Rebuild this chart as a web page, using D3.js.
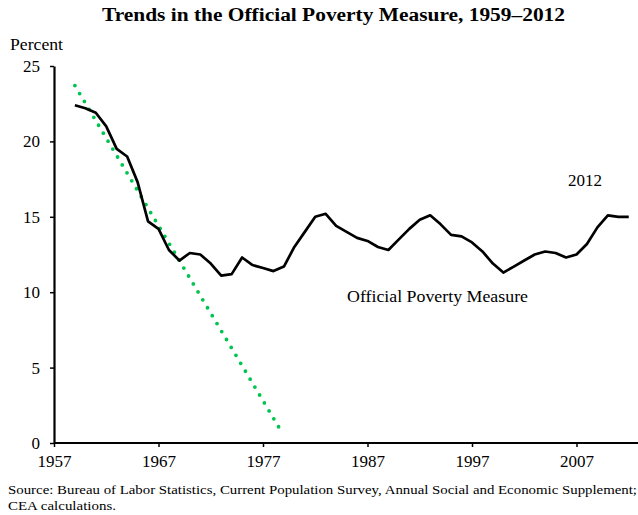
<!DOCTYPE html>
<html>
<head>
<meta charset="utf-8">
<script src="https://cdn.jsdelivr.net/npm/d3@7"></script>
<style>
  body { margin: 0; background: #fff; }
  svg { display: block; font-family: "Liberation Serif", "Times New Roman", serif; }
</style>
</head>
<body>
<svg id="chart" width="638" height="515"></svg>
<script>
// ---- data ----
const years = d3.range(1959, 2013);
const povertyRate = [
  22.4, 22.2, 21.9, 21.0, 19.5, 19.0, 17.3, 14.7, 14.2, 12.8,
  12.1, 12.6, 12.5, 11.9, 11.1, 11.2, 12.3, 11.8, 11.6, 11.4,
  11.7, 13.0, 14.0, 15.0, 15.2, 14.4, 14.0, 13.6, 13.4, 13.0,
  12.8, 13.5, 14.2, 14.8, 15.1, 14.5, 13.8, 13.7, 13.3, 12.7,
  11.9, 11.3, 11.7, 12.1, 12.5, 12.7, 12.6, 12.3, 12.5, 13.2,
  14.3, 15.1, 15.0, 15.0
];
const trendYears = [1959, 1978.6];
const trendValues = [23.7, 0.95];
const xTicks = [1957, 1967, 1977, 1987, 1997, 2007];
const yTicks = [0, 5, 10, 15, 20, 25];

const svg = d3.select("#chart");
const x = d3.scaleLinear().domain([1957, 2012]).range([54, 628.75]);
const y = d3.scaleLinear().domain([0, 25]).range([443, 66]);

// title
svg.append("text").attr("x", 102).attr("y", 21)
  .attr("font-size", 18.5).attr("font-weight", "bold")
  .attr("textLength", 463).attr("lengthAdjust", "spacingAndGlyphs")
  .text("Trends in the Official Poverty Measure, 1959\u20132012");

svg.append("text").attr("x", 10).attr("y", 50).attr("font-size", 16)
  .attr("textLength", 53).attr("lengthAdjust", "spacingAndGlyphs").text("Percent");

// y axis
const yAxis = svg.append("g").attr("transform", "translate(54,0)")
  .call(d3.axisLeft(y).tickValues(yTicks).tickSize(4).tickPadding(10).tickSizeOuter(0));
yAxis.select(".domain").attr("stroke-width", 2.2);
yAxis.selectAll(".tick line").attr("stroke-width", 1.5);
yAxis.selectAll("text").attr("font-size", 17).attr("font-family", "Liberation Serif").attr("fill", "#000");

// x axis
const xAxis = svg.append("g").attr("transform", "translate(0,443)")
  .call(d3.axisBottom(x).tickValues(xTicks).tickFormat(d3.format("d")).tickSize(4).tickPadding(8).tickSizeOuter(0));
xAxis.select(".domain").attr("d", `M54,0H638`).attr("stroke-width", 2.2);
xAxis.selectAll(".tick line").attr("stroke-width", 1.5);
xAxis.selectAll("text").attr("font-size", 17).attr("font-family", "Liberation Serif").attr("fill", "#000");

// trend dotted line
svg.append("path")
  .datum(trendYears.map((yr, i) => [yr, trendValues[i]]))
  .attr("d", d3.line().x(d => x(d[0])).y(d => y(d[1])))
  .attr("fill", "none").attr("stroke", "#00c450").attr("stroke-width", 3.8)
  .attr("stroke-linecap", "round").attr("stroke-dasharray", "0 9.24");

// poverty line
svg.append("path")
  .datum(years.map((yr, i) => [yr, povertyRate[i]]))
  .attr("d", d3.line().x(d => x(d[0])).y(d => y(d[1])))
  .attr("fill", "none").attr("stroke", "#000").attr("stroke-width", 2.7)
  .attr("stroke-linejoin", "round");

// labels
svg.append("text").attr("x", 347).attr("y", 302).attr("font-size", 16.5)
  .attr("textLength", 181).attr("lengthAdjust", "spacingAndGlyphs").text("Official Poverty Measure");
svg.append("text").attr("x", 568).attr("y", 186).attr("font-size", 17).text("2012");

// source
const src = svg.append("text").attr("font-size", 13.5);
src.append("tspan").attr("x", 8).attr("y", 494)
  .attr("textLength", 629).attr("lengthAdjust", "spacingAndGlyphs")
  .text("Source: Bureau of Labor Statistics, Current Population Survey, Annual Social and Economic Supplement;");
src.append("tspan").attr("x", 8).attr("y", 510)
  .attr("textLength", 108).attr("lengthAdjust", "spacingAndGlyphs").text("CEA calculations.");
</script>
</body>
</html>
